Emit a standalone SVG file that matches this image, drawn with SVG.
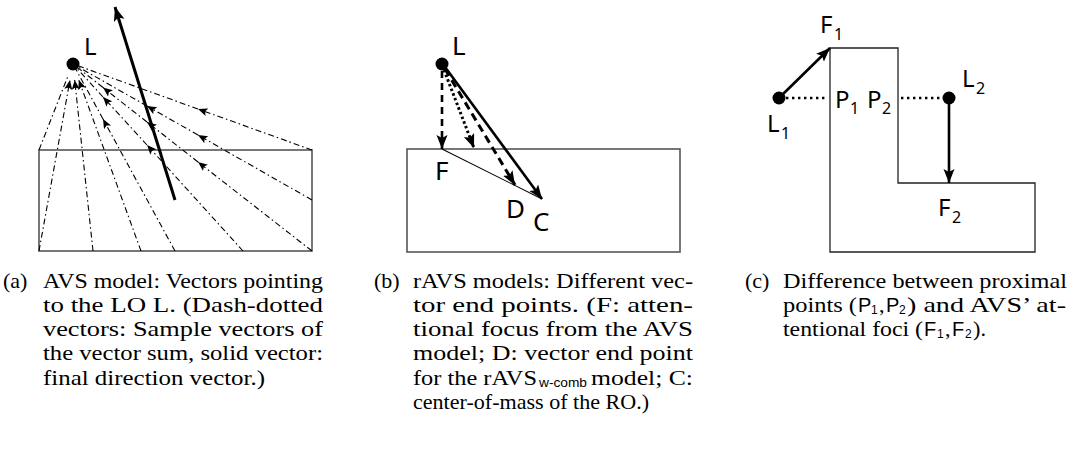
<svg xmlns="http://www.w3.org/2000/svg" width="1088" height="450" viewBox="0 0 1088 450">
<style>
.box{fill:none;stroke:#555;stroke-width:1.6}
.box2{fill:none;stroke:#222;stroke-width:1.3}
.dot{fill:#000}
.lbl{font-family:"Noto Sans","DejaVu Sans",sans-serif;fill:#000}
.cap{font-family:"Liberation Serif",serif;font-size:22px;fill:#000}
.cs{font-family:"Liberation Sans",Arial,sans-serif;fill:#000}
.dd{stroke:#000;stroke-width:1.1;stroke-dasharray:6 3 1.5 3;fill:none}
.ddm{marker-end:url(#ah-small)}
.thick{stroke:#000;stroke-width:3;fill:none}
</style>
<defs>
<marker id="ah-small" markerUnits="userSpaceOnUse" markerWidth="12" markerHeight="10" refX="9.5" refY="4" orient="auto">
<path d="M0,0 L9.5,4 L0,8 L2,4 z" fill="#000"/>
</marker>
<marker id="ah" markerUnits="userSpaceOnUse" markerWidth="16" markerHeight="12" refX="14" refY="5.5" orient="auto">
<path d="M0,0 L14,5.5 L0,11 L3,5.5 z" fill="#000"/>
</marker>
</defs>

<!-- Panel (a) -->
<g id="panel-a-object"><rect class="box" x="39" y="150" width="273" height="101"/></g>
<g id="panel-a-L"><circle class="dot" cx="73" cy="64" r="6.5"/><text class="lbl" x="84" y="55" font-size="24">L</text></g>

<g id="connectors-a">
<line class="dd ddm" x1="312" y1="150" x2="198" y2="109"/><line class="dd" x1="198" y1="109" x2="73" y2="64"/>
<line class="dd ddm" x1="312" y1="200" x2="198" y2="135"/><line class="dd ddm" x1="198" y1="135" x2="147" y2="106"/><line class="dd" x1="147" y1="106" x2="73" y2="64"/>
<line class="dd ddm" x1="312" y1="251" x2="198" y2="162"/><line class="dd ddm" x1="198" y1="162" x2="147" y2="122"/><line class="dd ddm" x1="147" y1="122" x2="103" y2="87.5"/><line class="dd" x1="103" y1="87.5" x2="73" y2="64"/>
<line class="dd ddm" x1="243" y1="251" x2="147" y2="145"/><line class="dd ddm" x1="147" y1="145" x2="103" y2="97"/><line class="dd" x1="103" y1="97" x2="73" y2="64"/>
<line class="dd ddm" x1="175" y1="251" x2="103" y2="119"/><line class="dd" x1="103" y1="119" x2="73" y2="64"/>
<line class="dd ddm" x1="141" y1="251" x2="78.8" y2="80"/>
<line class="dd ddm" x1="93" y1="251" x2="74.7" y2="80"/>
<line class="dd ddm" x1="39" y1="251" x2="70" y2="80"/>
<line class="dd" x1="39" y1="150" x2="68" y2="76"/>
<line class="thick" x1="175" y1="200" x2="115" y2="7" marker-end="url(#ah)"/>
</g>

<!-- Panel (b) -->
<g id="panel-b-object"><rect class="box" x="407" y="149" width="273" height="103"/></g>
<g id="panel-b-L"><circle class="dot" cx="442" cy="64" r="6.5"/><text class="lbl" x="452" y="55" font-size="26">L</text></g>
<g id="panel-b-F"><text class="lbl" x="435" y="180" font-size="26">F</text></g>
<g id="panel-b-D"><text class="lbl" x="506" y="218" font-size="26">D</text></g>
<g id="panel-b-C"><text class="lbl" x="533" y="231" font-size="26">C</text></g>
<g id="connectors-b">
<line x1="442" y1="149" x2="542" y2="199" stroke="#000" stroke-width="1.1"/>
<line x1="442" y1="71" x2="442" y2="149" stroke="#000" stroke-width="2.6" stroke-dasharray="7 5" marker-end="url(#ah)"/>
<line x1="444" y1="70" x2="474" y2="148" stroke="#000" stroke-width="3" stroke-dasharray="2.5 2.5" marker-end="url(#ah)"/>
<line x1="445" y1="69" x2="515" y2="185" stroke="#000" stroke-width="3" stroke-dasharray="8 5" marker-end="url(#ah)"/>
<line x1="445" y1="67" x2="542" y2="199" stroke="#000" stroke-width="2.6" marker-end="url(#ah)"/>
</g>

<!-- Panel (c) -->
<g id="panel-c-object"><path class="box2" d="M830,48 H898 V183 H1035 V252 H830 Z"/></g>
<g id="panel-c-L1"><circle class="dot" cx="779" cy="98" r="6.5"/><text class="lbl" x="767" y="132" font-size="24">L</text><text class="lbl" x="781" y="139" font-size="16">1</text></g>
<g id="panel-c-L2"><circle class="dot" cx="949" cy="98" r="6.5"/><text class="lbl" x="962" y="87" font-size="24">L</text><text class="lbl" x="976" y="94" font-size="16">2</text></g>
<g id="panel-c-F1"><text class="lbl" x="820" y="33" font-size="24">F</text><text class="lbl" x="834" y="40" font-size="16">1</text></g>
<g id="panel-c-F2"><text class="lbl" x="938" y="216" font-size="24">F</text><text class="lbl" x="952" y="223" font-size="16">2</text></g>
<g id="panel-c-P1"><text class="lbl" x="835" y="108" font-size="24">P</text><text class="lbl" x="850" y="114" font-size="16">1</text></g>
<g id="panel-c-P2"><text class="lbl" x="867" y="108" font-size="24">P</text><text class="lbl" x="882" y="114" font-size="16">2</text></g>
<g id="connectors-c">
<line x1="786" y1="98" x2="828" y2="98" stroke="#000" stroke-width="2.4" stroke-dasharray="2.4 3.6"/>
<line x1="901" y1="98" x2="943" y2="98" stroke="#000" stroke-width="2.4" stroke-dasharray="2.4 3.6"/>
<line x1="779" y1="98" x2="830" y2="48" stroke="#000" stroke-width="2.6" marker-end="url(#ah)"/>
<line x1="949" y1="98" x2="949" y2="183" stroke="#000" stroke-width="2.6" marker-end="url(#ah)"/>
</g>

<!-- Captions -->
<g id="caption-a">
<text class="cap" x="3" y="288">(a)</text>
<text class="cap" x="43" y="288" textLength="280" lengthAdjust="spacingAndGlyphs">AVS model: Vectors pointing</text>
<text class="cap" x="43" y="312" textLength="280" lengthAdjust="spacingAndGlyphs">to the LO L.  (Dash-dotted</text>
<text class="cap" x="43" y="336" textLength="280" lengthAdjust="spacingAndGlyphs">vectors:  Sample vectors of</text>
<text class="cap" x="43" y="360" textLength="280" lengthAdjust="spacingAndGlyphs">the vector sum, solid vector:</text>
<text class="cap" x="43" y="385" textLength="222" lengthAdjust="spacingAndGlyphs">final direction vector.)</text>
</g>
<g id="caption-b">
<text class="cap" x="374" y="288">(b)</text>
<text class="cap" x="413" y="288" textLength="280" lengthAdjust="spacingAndGlyphs">rAVS models: Different vec-</text>
<text class="cap" x="413" y="312" textLength="280" lengthAdjust="spacingAndGlyphs">tor end points.  (F: atten-</text>
<text class="cap" x="413" y="336" textLength="280" lengthAdjust="spacingAndGlyphs">tional focus from the AVS</text>
<text class="cap" x="413" y="360" textLength="280" lengthAdjust="spacingAndGlyphs">model; D: vector end point</text>
<text class="cap" x="413" y="385" textLength="124" lengthAdjust="spacingAndGlyphs">for the rAVS</text>
<text class="cs" x="539" y="386.5" font-size="13" textLength="48" lengthAdjust="spacingAndGlyphs">w-comb</text>
<text class="cap" x="591" y="385" textLength="102" lengthAdjust="spacingAndGlyphs">model; C:</text>
<text class="cap" x="413" y="409" textLength="236" lengthAdjust="spacingAndGlyphs">center-of-mass of the RO.)</text>
</g>
<g id="caption-c">
<text class="cap" x="745" y="288">(c)</text>
<text class="cap" x="783" y="288" textLength="284" lengthAdjust="spacingAndGlyphs">Difference between proximal</text>
<text class="cap" x="783" y="312" textLength="74" lengthAdjust="spacingAndGlyphs">points (</text>
<text class="cs" x="858" y="312" font-size="20">P</text>
<text class="cs" x="871" y="314" font-size="12">1</text>
<text class="cap" x="879" y="312">,</text>
<text class="cs" x="886" y="312" font-size="20">P</text>
<text class="cs" x="899" y="314" font-size="12">2</text>
<text class="cap" x="907" y="312" textLength="159" lengthAdjust="spacingAndGlyphs">) and AVS’ at-</text>
<text class="cap" x="783" y="336" textLength="140" lengthAdjust="spacingAndGlyphs">tentional foci (</text>
<text class="cs" x="924" y="336" font-size="20">F</text>
<text class="cs" x="937" y="338" font-size="12">1</text>
<text class="cap" x="945" y="336">,</text>
<text class="cs" x="952" y="336" font-size="20">F</text>
<text class="cs" x="965" y="338" font-size="12">2</text>
<text class="cap" x="973" y="336" textLength="13" lengthAdjust="spacingAndGlyphs">).</text>
</g>
</svg>
